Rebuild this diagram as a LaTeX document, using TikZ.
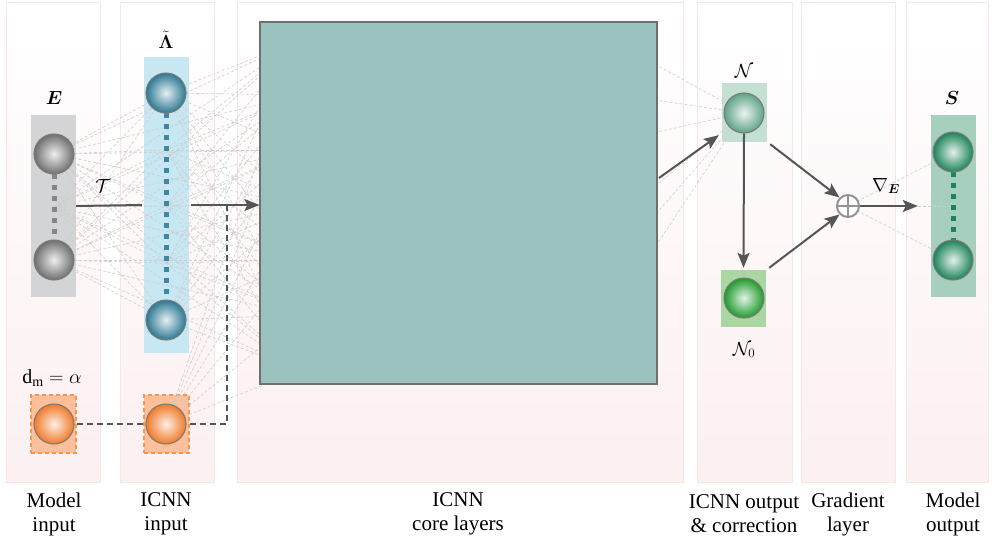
\RequirePackage{fix-cm}
\documentclass[tikz,border=0pt]{standalone}
\usepackage{amsmath,bm}
\usepackage{fontspec}
\setmainfont{Liberation Serif}
\DeclareMathSizes{18}{19}{13}{10}
\DeclareMathSizes{20}{20}{14}{10}
\usetikzlibrary{arrows.meta,calc}
\definecolor{colbot}{HTML}{FCF0F1}
\definecolor{coledge}{HTML}{F7E6E8}
\definecolor{netgray}{HTML}{CDCDCD}
\definecolor{arrgray}{HTML}{555555}
\definecolor{ballrim}{HTML}{7A7A7A}
\definecolor{Ebox}{HTML}{D3D4D6}
\definecolor{Eball}{HTML}{6F6F6F}
\definecolor{Lbox}{HTML}{C7E8F3}
\definecolor{Lball}{HTML}{2C7893}
\definecolor{Obox}{HTML}{FDC09A}
\definecolor{Oedge}{HTML}{F79550}
\definecolor{Oball}{HTML}{F07A2A}
\definecolor{Nbox}{HTML}{C4E0D3}
\definecolor{Nball}{HTML}{5FA486}
\definecolor{Nzbox}{HTML}{A9D6A1}
\definecolor{Nzball}{HTML}{1F9A2C}
\definecolor{Sbox}{HTML}{A6CFBD}
\definecolor{Sball}{HTML}{1C8458}
\definecolor{corefill}{HTML}{9CC2BF}
\definecolor{coreedge}{HTML}{6F6F6F}
\begin{document}
\begin{tikzpicture}[x=1pt,y=-1pt,
  font=\fontsize{18}{24}\selectfont,
  colbg/.style={top color=white, bottom color=colbot, draw=coledge, line width=0.6pt},
  layerbox/.style={rectangle, inner sep=0pt, minimum width=45pt, fill=#1},
  ball/.style={circle, inner sep=0pt, minimum size=40pt, draw=ballrim, line width=1.1pt,
    shading=radial, inner color=white!88!#1, outer color=#1},
  net/.style={draw=netgray, line width=0.6pt, dash pattern=on 3pt off 2pt},
  dotline/.style={draw=#1, line width=5pt, dash pattern=on 5pt off 6pt},
  arr/.style={draw=arrgray, line width=2pt, -{Stealth[length=15pt,width=12pt,inset=3pt]}},
  link/.style={draw=arrgray, line width=2pt},
  dlink/.style={draw=arrgray, line width=2.6pt, dash pattern=on 6pt off 4pt},
  lbl/.style={inner sep=0pt, align=center},
  bot/.style={inner sep=0pt, align=center, font=\fontsize{21}{24}\selectfont}
]
\useasboundingbox (0,0) rectangle (992,547);
\fill[white] (0,0) rectangle (992,547);
% background columns
\foreach \a/\b in {6/100,120/214,237/683,697/792,801/895,906/988}
  \path[colbg] (\a,2) rectangle (\b,482);

% layer boxes
\node[layerbox=Ebox, minimum height=182pt] (Eb) at (53.5,206) {};
\node[layerbox=Lbox, minimum height=296pt] (Lb) at (166.5,205) {};
\node[layerbox=Obox, minimum height=58pt, draw=Oedge, line width=1.2pt, dash pattern=on 4pt off 3pt] (Ab1) at (53.5,424) {};
\node[layerbox=Obox, minimum height=58pt, draw=Oedge, line width=1.2pt, dash pattern=on 4pt off 3pt] (Ab2) at (166.5,424) {};
\node[layerbox=Nbox, minimum height=59pt] (Nb) at (744.5,112.5) {};
\node[layerbox=Nzbox, minimum height=57pt] (N0b) at (743.5,298.5) {};
\node[layerbox=Sbox, minimum height=182pt] (Sb) at (953.5,206) {};

% hidden network connections
\foreach \p in {154,207,260}{
  \foreach \q in {93,150,206,263,320}
    \draw[net] (54,\p) -- (166,\q);
  \foreach \q in {40,95,150,205,260,315,370}
    \draw[net] (54,\p) -- (300,\q);
}
\foreach \p in {93,150,206,263,320,424}{
  \foreach \q in {40,95,150,205,260,315,370}
    \draw[net] (166,\p) -- (300,\q);
}
\foreach \q in {45,95,140,215,255,300}
  \draw[net] (620,\q) -- (744,113);
\foreach \q in {152,206,260}
  \draw[net] (848,206) -- (953,\q);

% dotted lines inside layers
\draw[dotline=Eball!85] (54,174) -- (54,240);
\draw[dotline=Lball!90] (166,113) -- (166,300);
\draw[dotline=Sball] (953,172) -- (953,240);

% balls
\node[ball=Eball] (E1) at (54,154) {};
\node[ball=Eball] (E2) at (54,260) {};
\node[ball=Lball] (L1) at (166,93) {};
\node[ball=Lball] (L2) at (166,320) {};
\node[ball=Oball] (A1) at (54,424) {};
\node[ball=Oball] (A2) at (166,424) {};
\node[ball=Nball] (N) at (744,113) {};
\node[ball=Nzball] (N0) at (744,298) {};
\node[ball=Sball] (S1) at (953,152) {};
\node[ball=Sball] (S2) at (953,260) {};

% core box
\node[rectangle, inner sep=0pt, minimum width=397pt, minimum height=362pt,
  fill=corefill, draw=coreedge, line width=1.2pt] (core) at (458.5,203) {};

% plus node
\node[circle, inner sep=0pt, minimum size=22pt, draw=gray!85, line width=2pt, fill=white] (plus) at (848,206) {};
\draw[gray!85, line width=2pt] (plus.north) -- (plus.south) (plus.west) -- (plus.east);

% labels
\node[lbl] (Elab) at (54,98) {$\boldsymbol{E}$};
\node[lbl] (Llab) at (166,40) {$\tilde{\boldsymbol{\Lambda}}$};
\node[lbl] (Tlab) at (103,186) {$\mathcal{T}$};
\node[lbl, font=\fontsize{20}{24}\selectfont] (alab) at (52,378) {$\mathrm{d_m}=\alpha$};
\node[lbl] (Nlab) at (744,71) {$\mathcal{N}$};
\node[lbl] (N0lab) at (744,350) {$\mathcal{N}_0$};
\node[lbl] (Slab) at (952,98) {$\boldsymbol{S}$};
\node[lbl] (glab) at (886,186) {$\nabla_{\boldsymbol{E}}$};

% connectors
\draw[link] (Eb.east) -- ([xshift=-2pt]Lb.west);
\draw[arr] ([xshift=2pt]Lb.east) -- (core.west |- Lb.east);
\coordinate (j) at (227,206);
\draw[dlink] (Ab1.east) -- (Ab2.west);
\draw[dlink] (Ab2.east) -| (j);
\coordinate (cout) at (659,178);
\draw[arr] (cout) -- ($(Nb.south west)+(-3,-7)$);
\draw[arr] (N.south) -- ([yshift=2pt]N0b.north);
\draw[arr] ([shift={(3,2)}]Nb.south east) -- (plus.north west);
\draw[arr] ([shift={(3,-2)}]N0b.north east) -- (plus.south west);
\draw[arr] (plus.east) -- ([xshift=-13pt]Sb.west);

% bottom labels
\node[bot] (t1) at (54,514) {Model\\input};
\node[bot] (t2) at (166,514) {ICNN\\input};
\node[bot] (t3) at (458,514) {ICNN\\core layers};
\node[bot] (t4) at (744,514) {ICNN output\\\& correction};
\node[bot] (t5) at (848,514) {Gradient\\layer};
\node[bot] (t6) at (953,514) {Model\\output};
\end{tikzpicture}
\end{document}
